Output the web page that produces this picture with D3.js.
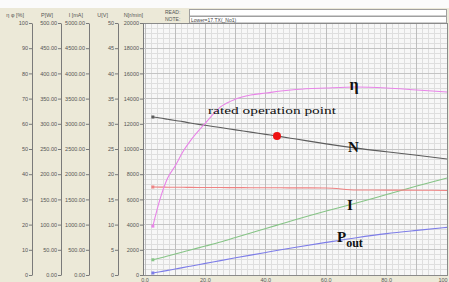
<!DOCTYPE html>
<html>
<head>
<meta charset="utf-8">
<script src="https://cdn.jsdelivr.net/npm/d3@7"></script>
<style>
  html, body { margin: 0; padding: 0; background: #fff; overflow: hidden; }
  svg { display: block; }
</style>
</head>
<body>
<script>
const W = 449
const H = 282

// load points along the x axis, and the curves
const load = [2.6, 5, 7.5, 10, 12.5, 15, 20, 25, 30, 35, 40, 45, 50, 60, 70, 80, 90, 100]
const efficiency = [19.4, 30.2, 38.5, 43.3, 48.8, 53.2, 60.3, 66.7, 69.8, 71.4, 72.2, 73.0, 73.6, 74.2, 74.6, 74.2, 73.4, 72.6]
const speed = [12540, 12460, 12360, 12260, 12170, 12060, 11880, 11700, 11520, 11340, 11160, 10980, 10790, 10410, 10070, 9780, 9500, 9210]
const voltage = [17.46, 17.44, 17.42, 17.41, 17.4, 17.38, 17.37, 17.35, 17.34, 17.32, 17.31, 17.3, 17.29, 17.26, 16.88, 16.85, 16.82, 16.78]
const current = [302, 337, 377, 417, 456, 496, 575, 655, 744, 833, 923, 1012, 1101, 1270, 1429, 1597, 1766, 1925]
const outputPower = [4.0, 6.3, 9.1, 11.9, 14.7, 17.5, 23.0, 28.6, 34.1, 39.5, 44.8, 50.0, 55.0, 64.7, 74.0, 82.1, 88.5, 94.4]

const ratedLoad = 43.7
const ratedSpeed = 11030

// tick values and labels of the five stacked y axes and the x axis
const effTicks = [0, 10, 20, 30, 40, 50, 60, 70, 80, 90, 100]
const effLabels = ['0', '10', '20', '30', '40', '50', '60', '70', '80', '90', '100']
const powerTicks = [0, 50, 100, 150, 200, 250, 300, 350, 400, 450, 500]
const powerLabels = ['0.00', '50.00', '100.00', '150.00', '200.00', '250.00', '300.00', '350.00', '400.00', '450.00', '500.00']
const currentTicks = [0, 500, 1000, 1500, 2000, 2500, 3000, 3500, 4000, 4500, 5000]
const currentLabels = ['0.00', '500.00', '1000.00', '1500.00', '2000.00', '2500.00', '3000.00', '3500.00', '4000.00', '4500.00', '5000.00']
const voltTicks = [0, 5, 10, 15, 20, 25, 30, 35, 40, 45, 50]
const voltLabels = ['0', '5', '10', '15', '20', '25', '30', '35', '40', '45', '50']
const speedTicks = [0, 2000, 4000, 6000, 8000, 10000, 12000, 14000, 16000, 18000, 20000]
const speedLabels = ['0', '2000', '4000', '6000', '8000', '10000', '12000', '14000', '16000', '18000', '20000']
const loadTicks = [0, 20, 40, 60, 80, 100]
const loadLabels = ['0.0', '20.0', '40.0', '60.0', '80.0', '100']

const BG = '#ece9d8'
const plot = { left: 143, right: 448, top: 23, bottom: 276 }
const yTop = 23
const yBottom = 275

const x = d3.scaleLinear().domain([0, 100]).range([145, 447])
const yEff = d3.scaleLinear().domain([0, 100]).range([yBottom, yTop])
const yPower = d3.scaleLinear().domain([0, 500]).range([yBottom, yTop])
const yCurrent = d3.scaleLinear().domain([0, 5000]).range([yBottom, yTop])
const yVolt = d3.scaleLinear().domain([0, 50]).range([yBottom, yTop])
const ySpeed = d3.scaleLinear().domain([0, 20000]).range([yBottom, yTop])

const axes = [
  { title: 'η φ [%]', scale: yEff, ticks: effTicks, labels: effLabels, at: 32, titleX: 24 },
  { title: 'P[W]', scale: yPower, ticks: powerTicks, labels: powerLabels, at: 61, titleX: 53 },
  { title: 'I [mA]', scale: yCurrent, ticks: currentTicks, labels: currentLabels, at: 89, titleX: 83 },
  { title: 'U[V]', scale: yVolt, ticks: voltTicks, labels: voltLabels, at: 118, titleX: 108 },
  { title: 'N[r/min]', scale: ySpeed, ticks: speedTicks, labels: speedLabels, at: 143, titleX: 143 }
]

const series = [
  { values: outputPower, scale: yPower, color: '#7d7de8' },
  { values: current, scale: yCurrent, color: '#86c486' },
  { values: voltage, scale: yVolt, color: '#ee8282' },
  { values: speed, scale: ySpeed, color: '#5c5c5c' },
  { values: efficiency, scale: yEff, color: '#e884e8' }
]

const svg = d3.select('body').append('svg')
  .attr('width', W)
  .attr('height', H)
  .attr('viewBox', `0 0 ${W} ${H}`)

svg.append('rect').attr('width', W).attr('height', H).attr('fill', '#fbfbfb')
svg.append('rect').attr('y', 8).attr('width', W).attr('height', H - 8).attr('fill', BG)

// READ / NOTE header boxes
const head = svg.append('g').style('font-family', 'Liberation Sans, Arial, sans-serif').style('font-size', '5px').attr('fill', '#555')
head.append('text').attr('x', 165).attr('y', 13.5).text('READ:')
head.append('text').attr('x', 165).attr('y', 20.5).text('NOTE:')
head.append('rect').attr('x', 189.5).attr('y', 9.5).attr('width', 257).attr('height', 6.5)
  .attr('fill', '#fff').attr('stroke', '#a0a0a0')
head.append('rect').attr('x', 189.5).attr('y', 16.5).attr('width', 257).attr('height', 6.5)
  .attr('fill', '#fff').attr('stroke', '#a0a0a0')
head.append('text').attr('x', 191).attr('y', 21.5).attr('fill', '#444').text('Lower=17.TX(_No1)')

// plot area with the graph-paper grid
svg.append('rect')
  .attr('x', plot.left).attr('y', plot.top)
  .attr('width', plot.right - plot.left).attr('height', plot.bottom - plot.top)
  .attr('fill', '#f7f7f7')

const grid = svg.append('g').attr('shape-rendering', 'crispEdges')
grid.selectAll('.vminor')
  .data(d3.range(0, 101, 2))
  .join('line')
  .attr('x1', d => x(d)).attr('x2', d => x(d))
  .attr('y1', plot.top).attr('y2', plot.bottom)
  .attr('stroke', '#dedede')
grid.selectAll('.hminor')
  .data(d3.range(0, 101, 2))
  .join('line')
  .attr('x1', plot.left).attr('x2', plot.right)
  .attr('y1', d => yEff(d)).attr('y2', d => yEff(d))
  .attr('stroke', '#dedede')
grid.selectAll('.vmajor')
  .data(d3.range(0, 101, 10))
  .join('line')
  .attr('x1', d => x(d)).attr('x2', d => x(d))
  .attr('y1', plot.top).attr('y2', plot.bottom)
  .attr('stroke', '#bdbdbd')
grid.selectAll('.hmajor')
  .data(effTicks)
  .join('line')
  .attr('x1', plot.left).attr('x2', plot.right)
  .attr('y1', d => yEff(d)).attr('y2', d => yEff(d))
  .attr('stroke', '#c4c4c4')

svg.append('rect')
  .attr('x', plot.left + 0.5).attr('y', plot.top + 0.5)
  .attr('width', plot.right - plot.left - 1).attr('height', plot.bottom - plot.top - 1)
  .attr('fill', 'none').attr('stroke', '#8a8a8a')

// the five stacked y axes on the left
axes.forEach(a => {
  const g = svg.append('g')
    .attr('transform', `translate(${a.at}, 0)`)
    .call(d3.axisLeft(a.scale)
      .tickValues(a.ticks)
      .tickFormat((d, i) => a.labels[i])
      .tickSize(3)
      .tickSizeOuter(0)
      .tickPadding(1))
  g.select('.domain').attr('stroke', '#7a7a7a')
  g.selectAll('.tick line').attr('stroke', '#7a7a7a')
  g.selectAll('.tick text')
    .attr('fill', '#555')
    .style('font-family', 'Liberation Sans, Arial, sans-serif')
    .style('font-size', '5.5px')
  svg.append('text')
    .attr('x', a.titleX).attr('y', 17)
    .attr('text-anchor', 'end')
    .attr('fill', '#555')
    .style('font-family', 'Liberation Sans, Arial, sans-serif')
    .style('font-size', '5.5px')
    .text(a.title)
})

// x axis labels, squeezed against the bottom edge as on the sheet
svg.append('g')
  .selectAll('text')
  .data(loadTicks)
  .join('text')
  .attr('x', (d, i) => i === loadTicks.length - 1 ? x(d) - 4 : x(d))
  .attr('y', 281.5)
  .attr('text-anchor', 'middle')
  .attr('fill', '#555')
  .style('font-family', 'Liberation Sans, Arial, sans-serif')
  .style('font-size', '5.5px')
  .text((d, i) => loadLabels[i])

// curves
svg.append('clipPath').attr('id', 'plot-clip')
  .append('rect')
  .attr('x', plot.left + 1).attr('y', plot.top + 1)
  .attr('width', plot.right - plot.left - 2).attr('height', plot.bottom - plot.top - 2)

const curves = svg.append('g').attr('clip-path', 'url(#plot-clip)')
series.forEach(s => {
  const line = d3.line()
    .x((d, i) => x(load[i]))
    .y(d => s.scale(d))
    .curve(d3.curveMonotoneX)
  curves.append('path')
    .datum(s.values)
    .attr('d', line)
    .attr('fill', 'none')
    .attr('stroke', s.color)
    .attr('stroke-width', 1.1)
  curves.append('rect')
    .attr('x', x(load[0]) - 1.5)
    .attr('y', s.scale(s.values[0]) - 1.5)
    .attr('width', 3).attr('height', 3)
    .attr('fill', s.color)
})

curves.append('circle')
  .attr('cx', x(ratedLoad))
  .attr('cy', ySpeed(ratedSpeed))
  .attr('r', 4)
  .attr('fill', '#ee1111')

// annotations
const serif = 'Liberation Serif, Times New Roman, serif'
const notes = svg.append('g').style('font-family', serif).attr('fill', '#111')
notes.append('text')
  .attr('x', 208).attr('y', 114)
  .attr('textLength', 128).attr('lengthAdjust', 'spacingAndGlyphs')
  .style('font-size', '11px')
  .text('rated operation point')
notes.append('text').attr('x', 354).attr('y', 90).attr('text-anchor', 'middle')
  .style('font-size', '16px').style('font-weight', 'bold').text('η')
notes.append('text').attr('x', 353.5).attr('y', 152).attr('text-anchor', 'middle')
  .style('font-size', '15px').style('font-weight', 'bold').text('N')
notes.append('text').attr('x', 350).attr('y', 210).attr('text-anchor', 'middle')
  .style('font-size', '15px').style('font-weight', 'bold').text('I')
const pout = notes.append('text').attr('x', 337).attr('y', 242)
  .style('font-weight', 'bold')
pout.append('tspan').style('font-size', '15px').text('P')
pout.append('tspan').attr('dy', 5).style('font-size', '12px').text('out')
</script>
</body>
</html>
